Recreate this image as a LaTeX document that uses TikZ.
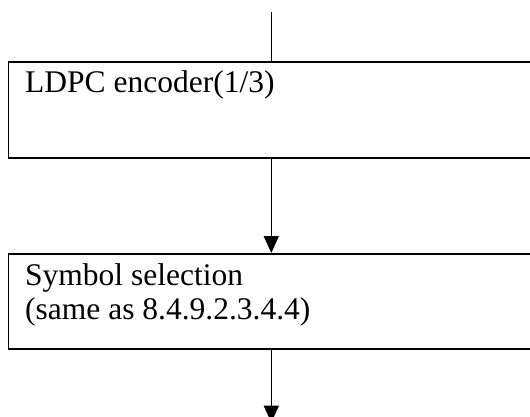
\documentclass[tikz,border=0pt]{standalone}
\usepackage{fontspec}
\setmainfont{Liberation Serif}
\usetikzlibrary{arrows.meta, positioning}
\tikzset{
  blockbox/.style={draw=black, line width=1.6pt, minimum width=526pt,
                   minimum height=96pt, inner sep=0pt, anchor=north west},
  blocktxt/.style={font=\fontsize{31.5}{34}\selectfont, inner sep=0pt,
                   align=left, anchor=base west},
  feed/.style={line width=1.6pt, draw=black},
  flow/.style={-{Triangle[length=17pt, width=15pt]}, line width=1.6pt, draw=black},
}

\begin{document}
\begin{tikzpicture}[x=1pt, y=-1pt]
  \useasboundingbox (0,0) rectangle (530,417);
  % blocks
  \node[blockbox] (enc) at (7.5,61) {};
  \node[blockbox, minimum height=95pt] (sel) at (7.5,253) {};
  % texts (base = last line)
  \node[blocktxt] (enctxt) at ([shift={(17.5,32)}]enc.north west) {LDPC encoder(1/3)};
  \node[blocktxt] (seltxt) at ([shift={(17.5,66)}]sel.north west) {Symbol selection\\(same as 8.4.9.2.3.4.4)};
  % free ends
  \coordinate (in) at ([yshift=49pt]enc.north);
  \coordinate (out) at ([yshift=-73pt]sel.south);
  % edges
  \draw[feed] (in) -- (enc);
  \draw[flow] (enc) -- (sel);
  \draw[flow] (sel) -- (out);
\end{tikzpicture}
\end{document}
